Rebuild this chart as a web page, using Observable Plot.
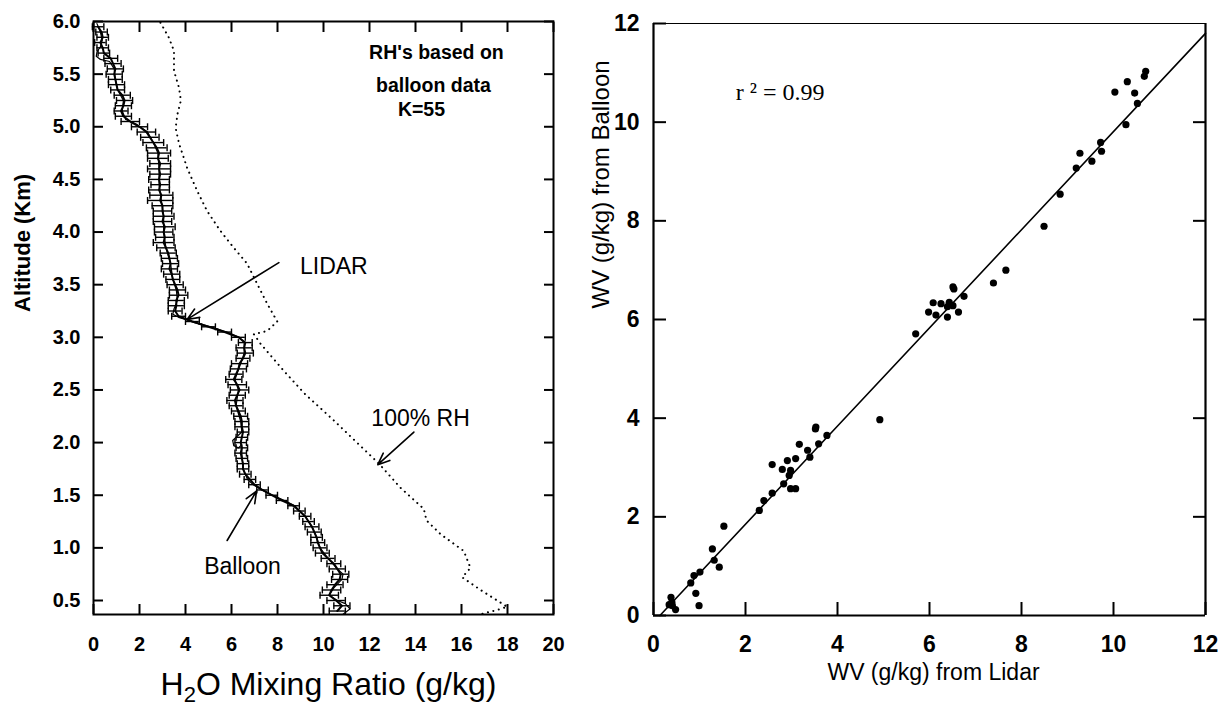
<!DOCTYPE html>
<html><head><meta charset="utf-8">
<script src="https://cdn.jsdelivr.net/npm/d3@7"></script>
<script src="https://cdn.jsdelivr.net/npm/@observablehq/plot@0.6"></script>
<style>
body{margin:0;background:#fff;}
#wrap{position:relative;width:1218px;height:710px;overflow:hidden;background:#fff;}
#left{position:absolute;left:0;top:0;}
#right{position:absolute;left:590px;top:0;}
</style></head><body><div id="wrap"><div id="left"></div><div id="right"></div></div>
<script>
// ---------- Left panel data ----------
const lidarAlt = [5.95,5.90,5.85,5.80,5.75,5.70,5.65,5.60,5.55,5.50,5.45,5.40,5.35,5.30,5.25,5.20,5.15,5.10,5.05,5.00,
4.95,4.90,4.85,4.80,4.75,4.70,4.65,4.60,4.55,4.50,4.45,4.40,4.35,4.30,4.25,4.20,4.15,4.10,4.05,4.00,
3.95,3.90,3.85,3.80,3.75,3.70,3.65,3.60,3.55,3.50,3.45,3.40,3.35,3.30,3.25,3.20,3.15,3.10,3.05,3.00,
2.95,2.90,2.85,2.80,2.75,2.70,2.65,2.60,2.55,2.50,2.45,2.40,2.35,2.30,2.25,2.20,2.15,2.10,2.05,2.00,
1.95,1.90,1.85,1.80,1.75,1.70,1.65,1.60,1.55,1.50,1.45,1.40,1.35,1.30,1.25,1.20,1.15,1.10,1.05,1.00,
0.95,0.90,0.85,0.80,0.75,0.70,0.65,0.60,0.55,0.50,0.45,0.40];
const lidarMR = [0.20,0.35,0.40,0.30,0.40,0.45,0.75,0.85,0.95,0.90,0.95,1.00,1.05,1.25,1.35,1.30,1.20,1.30,1.60,2.00,
2.30,2.45,2.60,2.75,2.85,2.80,2.90,2.85,2.90,2.85,2.90,2.85,2.95,2.90,3.00,3.00,3.05,3.00,3.10,3.05,
3.10,3.05,3.15,3.25,3.30,3.35,3.30,3.40,3.45,3.55,3.65,3.70,3.60,3.60,3.55,3.70,4.30,5.00,5.70,6.30,
6.60,6.55,6.60,6.50,6.35,6.30,6.20,6.10,6.25,6.35,6.25,6.15,6.20,6.30,6.40,6.45,6.45,6.50,6.45,6.40,
6.45,6.40,6.45,6.50,6.50,6.60,6.80,7.00,7.35,7.75,8.20,8.70,8.95,9.20,9.35,9.50,9.60,9.70,9.75,9.85,
9.95,10.20,10.45,10.60,10.75,10.70,10.50,10.35,10.25,10.55,10.80,10.60];
const lidarErr = [0.25,0.25,0.25,0.25,0.25,0.25,0.30,0.35,0.35,0.35,0.30,0.35,0.30,0.35,0.35,0.35,0.30,0.35,0.40,0.35,
0.40,0.40,0.45,0.45,0.50,0.45,0.45,0.50,0.45,0.45,0.40,0.45,0.50,0.55,0.45,0.40,0.45,0.40,0.45,0.40,
0.40,0.45,0.40,0.35,0.35,0.35,0.35,0.35,0.30,0.35,0.35,0.40,0.35,0.35,0.30,0.30,0.30,0.30,0.30,0.30,
0.30,0.35,0.35,0.30,0.35,0.35,0.30,0.35,0.40,0.40,0.35,0.35,0.30,0.30,0.30,0.30,0.30,0.25,0.25,0.25,
0.25,0.25,0.25,0.25,0.25,0.25,0.25,0.25,0.25,0.25,0.25,0.25,0.25,0.25,0.25,0.30,0.30,0.25,0.30,0.30,
0.30,0.30,0.30,0.35,0.35,0.35,0.35,0.40,0.40,0.40,0.35,0.35];

const balloonAlt = [5.98,5.90,5.82,5.76,5.71,5.67,5.64,5.62,5.55,5.45,5.35,5.25,5.15,5.07,5.02,4.95,4.85,4.75,4.60,4.45,
4.30,4.15,4.00,3.85,3.70,3.55,3.45,3.35,3.27,3.22,3.19,3.17,3.14,3.10,3.05,3.00,2.95,2.85,2.75,2.60,
2.50,2.35,2.20,2.10,2.06,2.02,1.97,1.95,1.98,1.90,1.75,1.65,1.60,1.55,1.50,1.45,1.40,1.30,1.20,1.10,
1.00,0.90,0.80,0.75,0.70,0.62,0.55,0.50,0.47,0.42,0.37];
const balloonMR = [0.15,0.30,0.38,0.30,0.15,0.12,0.30,0.70,0.90,0.95,1.05,1.30,1.25,1.40,1.90,2.35,2.60,2.80,2.85,2.85,
2.95,3.05,3.05,3.15,3.35,3.45,3.60,3.65,3.50,3.45,3.70,4.00,4.40,5.10,5.80,6.35,6.55,6.55,6.40,6.15,
6.30,6.20,6.40,6.45,6.25,6.05,6.10,6.30,6.45,6.45,6.50,6.70,6.95,7.30,7.80,8.30,8.75,9.20,9.50,9.70,
9.85,10.20,10.60,10.85,10.80,10.45,10.25,10.60,10.95,11.15,10.85];

const rhAlt = [5.99,5.85,5.72,5.53,5.37,5.25,5.12,4.99,4.84,4.61,4.39,4.20,4.01,3.85,3.70,3.51,3.32,3.15,3.06,3.03,
2.94,2.68,2.46,2.21,1.80,1.57,1.37,1.26,1.13,0.97,0.81,0.72,0.59,0.48,0.44,0.41,0.37];
const rhMR = [2.91,3.27,3.50,3.50,3.72,3.80,3.65,3.57,3.72,4.07,4.51,4.94,5.52,6.10,6.68,7.11,7.55,7.99,7.55,6.97,
7.26,8.28,9.20,10.45,12.41,13.35,14.36,14.48,15.09,16.10,16.39,16.03,16.90,17.70,17.99,17.55,16.83];

const xTicksLeft = [0,2,4,6,8,10,12,14,16,18,20];
const yTicksLeft = [0.5,1.0,1.5,2.0,2.5,3.0,3.5,4.0,4.5,5.0,5.5,6.0];

const noteBoldText = ["RH's based on","balloon data","K=55"];
const noteBoldX = [14.91,14.78,14.26];
const noteBoldY = [5.70,5.39,5.16];
const noteText = ["LIDAR","100% RH","Balloon"];
const noteX = [10.45,14.22,6.48];
const noteY = [3.67,2.23,0.82];
const arrowX1 = [8.06,13.93,5.81];
const arrowY1 = [3.71,2.10,1.07];
const arrowX2 = [4.07,12.36,7.09];
const arrowY2 = [3.17,1.79,1.54];

// ---------- Right panel data ----------
const wvLidar = [10.70,10.67,10.30,10.03,10.46,10.52,10.27,9.72,9.74,9.27,9.53,9.19,8.84,8.49,7.66,7.39,
6.51,6.53,6.75,6.08,6.25,6.43,6.51,5.98,6.14,6.39,6.63,6.39,5.70,4.92,
3.53,3.52,3.77,3.59,3.35,3.40,3.17,3.09,2.91,2.58,2.80,2.98,2.95,2.83,2.98,3.09,2.58,2.40,2.30,
1.53,1.28,1.32,1.43,1.01,0.88,0.81,0.92,0.99,0.38,0.40,0.41,0.48,0.34];
const wvBalloon = [11.03,10.93,10.82,10.61,10.59,10.38,9.95,9.59,9.41,9.37,9.21,9.07,8.54,7.89,7.00,6.74,
6.66,6.62,6.47,6.34,6.32,6.35,6.28,6.15,6.09,6.05,6.15,6.26,5.71,3.97,
3.82,3.78,3.65,3.48,3.35,3.21,3.47,3.18,3.14,3.06,2.96,2.94,2.84,2.67,2.57,2.57,2.48,2.33,2.13,
1.81,1.35,1.12,0.98,0.88,0.81,0.66,0.45,0.20,0.37,0.27,0.20,0.12,0.22];
const fitX = [0.14,12];
const fitSlope = 0.995, fitIntercept = -0.14;
const ticksRight = [0,2,4,6,8,10,12];
const r2Label = "r \u00B2 = 0.99";

// ---------- Build ----------
const font = "Liberation Sans, Arial, Helvetica, sans-serif";
const lidar = lidarAlt.map((a,i)=>({alt:a, mr:lidarMR[i], err:lidarErr[i]}));
const balloon = balloonAlt.map((a,i)=>({alt:a, mr:balloonMR[i]}));
const rh = rhAlt.map((a,i)=>({alt:a, mr:rhMR[i]}));
const boldNotes = noteBoldText.map((t,i)=>({t, x:noteBoldX[i], y:noteBoldY[i]}));
const notes = noteText.map((t,i)=>({t, x:noteX[i], y:noteY[i]}));
const arrows = arrowX1.map((x,i)=>({x1:x, y1:arrowY1[i], x2:arrowX2[i], y2:arrowY2[i]}));
const capSymbol = {draw(ctx, size){const h = Math.sqrt(size/Math.PI); ctx.moveTo(0,-h); ctx.lineTo(0,h);}};

function styleTicks(svg, size) {
  d3.select(svg).selectAll('g[aria-label="x-axis tick label"], g[aria-label="y-axis tick label"]')
    .style("font-size", size + "px").style("font-weight", "bold").attr("fill", "black");
}

const left = Plot.plot({
  width: 590, height: 710,
  marginLeft: 93, marginRight: 37, marginTop: 21, marginBottom: 96,
  x: {domain: [0,20]},
  y: {domain: [0.367, 6]},
  style: {fontFamily: font, color: "black", background: "white", overflow: "visible"},
  marks: [
    Plot.line(rh, {x:"mr", y:"alt", stroke:"black", strokeWidth:2, strokeDasharray:"0.1,5.5", strokeLinecap:"round"}),
    Plot.line(balloon, {x:"mr", y:"alt", stroke:"black", strokeWidth:1.2}),
    Plot.line(lidar, {x:"mr", y:"alt", stroke:"black", strokeWidth:2}),
    Plot.ruleY(lidar, {y:"alt", x1:d=>d.mr-d.err, x2:d=>d.mr+d.err, stroke:"black", strokeWidth:1.4}),
    Plot.dot(lidar, {x:d=>d.mr-d.err, y:"alt", symbol:capSymbol, r:3.5, stroke:"black", fill:"none", strokeWidth:1.4}),
    Plot.dot(lidar, {x:d=>d.mr+d.err, y:"alt", symbol:capSymbol, r:3.5, stroke:"black", fill:"none", strokeWidth:1.4}),
    Plot.arrow(arrows, {x1:"x1", y1:"y1", x2:"x2", y2:"y2", stroke:"black", strokeWidth:1.6, headLength:12, headAngle:45}),
    Plot.text(boldNotes, {x:"x", y:"y", text:"t", fontSize:19.5, fontWeight:"bold", fill:"black"}),
    Plot.text(notes, {x:"x", y:"y", text:"t", fontSize:23, fill:"black"}),
    Plot.axisX({anchor:"bottom", ticks:xTicksLeft, tickSize:-10, tickPadding:32, strokeWidth:2, fontSize:20, fontWeight:"bold", label:null}),
    Plot.axisX({anchor:"top", ticks:xTicksLeft, tickSize:-10, strokeWidth:2, tickFormat:()=>"", label:null}),
    Plot.axisY({anchor:"left", ticks:yTicksLeft, tickSize:-10, tickPadding:23, strokeWidth:2, tickFormat:d3.format(".1f"), fontSize:20, fontWeight:"bold", label:null}),
    Plot.axisY({anchor:"right", ticks:yTicksLeft, tickSize:-10, strokeWidth:2, tickFormat:()=>"", label:null}),
    Plot.frame({stroke:"black", strokeWidth:2}),
    Plot.text(["Altitude (Km)"], {text:d=>d, frameAnchor:"left", dx:-71, dy:-6, rotate:-90, fontSize:22, fontWeight:"bold", fill:"black"}),
    Plot.text(["H2O Mixing Ratio (g/kg)"], {text:d=>d, frameAnchor:"bottom", dx:5, dy:80, fontSize:32, fill:"black"})
  ]
});
document.getElementById("left").appendChild(left);
styleTicks(left, 20);
// subscript 2 in H2O
d3.select(left).selectAll("text").filter(function(){return this.textContent === "H2O Mixing Ratio (g/kg)";})
  .each(function(){
    const t = d3.select(this); t.text(null);
    t.append("tspan").text("H");
    t.append("tspan").attr("font-size","22").attr("dy","7").text("2");
    t.append("tspan").attr("dy","-7").text("O Mixing Ratio (g/kg)");
  });

const pts = wvLidar.map((x,i)=>({x, y:wvBalloon[i]}));
const fit = fitX.map(x=>({x, y: fitSlope*x + fitIntercept}));

const right = Plot.plot({
  width: 628, height: 710,
  marginLeft: 63, marginRight: 13, marginTop: 23, marginBottom: 95,
  x: {domain: [0,12]},
  y: {domain: [0,12]},
  style: {fontFamily: font, color: "black", background: "white", overflow: "visible"},
  marks: [
    Plot.line(fit, {x:"x", y:"y", stroke:"black", strokeWidth:1.6}),
    Plot.dot(pts, {x:"x", y:"y", r:3.6, fill:"black"}),
    Plot.axisX({anchor:"bottom", ticks:ticksRight, tickSize:-13, tickPadding:33, strokeWidth:2, fontSize:23, fontWeight:"bold", label:null}),
    Plot.axisY({anchor:"left", ticks:ticksRight, tickSize:-13, tickPadding:27, strokeWidth:2, fontSize:23, fontWeight:"bold", label:null}),
    Plot.axisY({anchor:"right", ticks:ticksRight.slice(1,-1), tickSize:-13, strokeWidth:2, tickFormat:()=>"", label:null}),
    Plot.ruleX([0,12], {stroke:"black", strokeWidth:2.2}),
    Plot.ruleY([0], {stroke:"black", strokeWidth:2.2}),
    Plot.ruleY([12], {stroke:"black", strokeWidth:1.2}),
    Plot.text([r2Label], {text:d=>d, x:1.79, y:10.61, textAnchor:"start", fontSize:24, fontFamily:"Liberation Serif, Times New Roman, serif", fill:"black"}),
    Plot.text(["WV (g/kg) from Balloon"], {text:d=>d, frameAnchor:"left", dx:-52, dy:-11, rotate:-90, fontSize:24, fill:"black"}),
    Plot.text(["WV (g/kg) from Lidar"], {text:d=>d, frameAnchor:"bottom", dx:4, dy:64, fontSize:23, fill:"black"})
  ]
});
document.getElementById("right").appendChild(right);
styleTicks(right, 23);
</script>
</body></html>
